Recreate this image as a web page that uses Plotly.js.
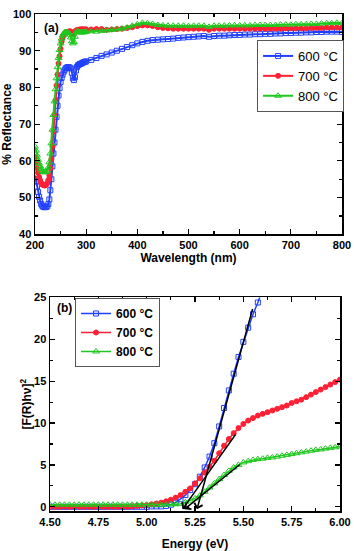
<!DOCTYPE html>
<html>
<head>
<meta charset="utf-8">
<script src="https://cdn.plot.ly/plotly-3.0.1.min.js"></script>
<style>
  html, body { margin: 0; padding: 0; background: #fff; }
  #plot { width: 354px; height: 551px; }
</style>
</head>
<body>
<div id="plot"></div>
<script>
// --- (a) reflectance data ---
const wavelength = [
  200, 202, 204, 206, 208, 210, 212, 214, 216, 218, 220, 222, 224, 226, 228, 230, 232, 234, 236, 238,
  240, 242, 244, 246, 248, 250, 252, 254, 256, 258, 260, 262, 264, 266, 268, 270, 272, 274, 276, 278,
  280, 282, 284, 286, 288, 290, 292, 294, 296, 298, 300,
  310, 320, 330, 340, 350, 360, 370, 380, 390, 400, 410, 420, 430, 440, 450, 460, 470, 480, 490, 500,
  510, 520, 530, 540, 550, 560, 570, 580, 590, 600, 610, 620, 630, 640, 650, 660, 670, 680, 690, 700,
  710, 720, 730, 740, 750, 760, 770, 780, 790, 800
];
const refl600 = [
  56.0, 54.5, 53.0, 51.5, 50.2, 49.2, 48.3, 47.8, 47.5, 47.4, 47.4, 47.5, 47.6, 48.2, 49.5, 52.0, 55.0, 58.5, 62.0, 65.0,
  68.5, 72.0, 75.0, 77.8, 79.8, 81.5, 82.6, 83.5, 84.3, 84.8, 85.2, 85.4, 85.5, 85.5, 85.4, 85.2, 84.0, 82.5, 82.0, 82.8,
  84.6, 85.6, 86.0, 86.2, 86.4, 86.5, 86.6, 86.8, 86.9, 87.0, 87.1,
  87.5, 88.0, 88.6, 89.0, 89.5, 90.0, 90.5, 91.0, 91.5, 92.0, 92.4, 92.7, 92.9, 93.0, 93.1, 93.2, 93.3, 93.5, 93.6, 93.7,
  93.8, 93.9, 94.0, 93.8, 94.0, 94.1, 94.1, 94.2, 94.3, 94.3, 94.4, 94.4, 94.5, 94.5, 94.6, 94.6, 94.7, 94.7, 94.8, 94.8,
  94.9, 94.9, 95.0, 95.0, 95.1, 95.1, 95.2, 95.2, 95.2, 95.1
];
const refl700 = [
  60.9, 59.5, 58.0, 56.8, 55.6, 54.7, 54.0, 53.6, 53.4, 53.3, 53.3, 53.5, 54.0, 54.8, 56.0, 58.0, 60.5, 64.0, 68.0, 72.5,
  76.5, 80.5, 83.5, 86.5, 88.5, 90.5, 92.5, 93.6, 94.2, 94.6, 94.8, 95.0, 95.1, 95.2, 95.3, 95.2, 94.8, 94.5, 94.8, 95.2,
  95.5, 95.6, 95.7, 95.7, 95.8, 95.8, 95.8, 95.8, 95.8, 95.8, 95.8,
  95.8, 95.9, 95.9, 95.7, 95.8, 95.9, 96.0, 96.2, 96.4, 96.7, 96.9, 96.9, 96.7, 96.4, 96.2, 96.1, 96.0, 96.0, 96.0, 96.0,
  96.0, 96.0, 96.0, 95.7, 96.0, 96.0, 96.0, 96.0, 96.0, 96.0, 96.0, 96.0, 96.0, 96.0, 96.0, 96.0, 96.0, 96.0, 96.1, 96.1,
  96.1, 96.1, 96.1, 96.2, 96.2, 96.2, 96.3, 96.3, 96.3, 96.3
];
const refl800 = [
  63.9, 62.8, 61.5, 60.3, 59.3, 58.5, 57.8, 57.3, 57.0, 56.9, 56.9, 57.0, 57.4, 58.2, 59.6, 62.0, 64.8, 68.5, 72.5, 76.2,
  79.5, 82.5, 85.5, 88.0, 90.2, 92.0, 93.3, 94.2, 94.7, 95.0, 95.1, 95.1, 95.0, 94.8, 94.4, 93.6, 92.6, 92.0, 92.4, 93.8,
  95.0, 95.3, 95.2, 95.1, 95.0, 95.0, 95.0, 95.1, 95.0, 95.1, 95.2,
  95.3, 95.2, 95.4, 95.5, 95.7, 95.8, 96.0, 96.3, 96.8, 97.2, 97.6, 97.5, 97.3, 97.0, 96.9, 96.8, 96.8, 96.8, 96.8, 96.7,
  96.8, 96.8, 96.8, 96.5, 96.8, 96.8, 96.8, 96.9, 96.9, 96.9, 96.9, 96.9, 97.0, 97.0, 97.0, 97.0, 97.0, 97.1, 97.1, 97.1,
  97.2, 97.2, 97.2, 97.3, 97.3, 97.4, 97.5, 97.5, 97.6, 97.5
];
const reflTicks = [40, 50, 60, 70, 80, 90, 100];

// --- (b) Kubelka-Munk data ---
const energy = [
  4.500, 4.525, 4.550, 4.575, 4.600, 4.625, 4.650, 4.675, 4.700, 4.725, 4.750, 4.775, 4.800, 4.825, 4.850, 4.875,
  4.900, 4.925, 4.950, 4.975, 5.000, 5.025, 5.050, 5.075, 5.100, 5.125, 5.150, 5.175, 5.200, 5.225, 5.250, 5.275,
  5.300, 5.325, 5.350, 5.375, 5.400, 5.425, 5.450, 5.475, 5.500, 5.525, 5.550, 5.575, 5.600, 5.625, 5.650, 5.675,
  5.700, 5.725, 5.750, 5.775, 5.800, 5.825, 5.850, 5.875, 5.900, 5.925, 5.950, 5.975, 6.000
];
const km600 = [
  0.0, 0.0, 0.0, 0.0, 0.0, 0.0, 0.0, 0.0, 0.0, 0.0, 0.0, 0.0, 0.0, 0.0, 0.0, 0.0,
  0.0, 0.0, 0.0, 0.0, 0.0, 0.05, 0.05, 0.05, 0.1, 0.25, 0.5, 0.9, 1.4, 2.0, 2.7, 3.6,
  4.7, 6.0, 7.6, 9.6, 11.8, 13.9, 15.9, 17.9, 19.7, 21.4, 23.0, 24.4, 26.0
];
const km700 = [
  0.0, 0.0, 0.0, 0.0, 0.0, 0.0, 0.0, 0.0, 0.0, 0.0, 0.0, 0.0, 0.0, 0.0, 0.0, 0.0,
  0.0, 0.05, 0.1, 0.15, 0.2, 0.3, 0.4, 0.5, 0.65, 0.85, 1.1, 1.4, 1.8, 2.2, 2.8, 3.4,
  4.1, 4.8, 5.5, 6.4, 7.3, 8.1, 8.8, 9.4, 9.9, 10.3, 10.6, 10.9, 11.1, 11.3, 11.5, 11.7,
  11.9, 12.1, 12.4, 12.6, 12.8, 13.1, 13.4, 13.7, 14.0, 14.3, 14.6, 14.9, 15.2
];
const km800 = [
  0.25, 0.25, 0.25, 0.25, 0.25, 0.25, 0.25, 0.25, 0.25, 0.25, 0.25, 0.25, 0.25, 0.25, 0.25, 0.25,
  0.25, 0.25, 0.25, 0.25, 0.25, 0.25, 0.25, 0.25, 0.25, 0.3, 0.3, 0.35, 0.55, 0.75, 1.0, 1.35,
  1.8, 2.3, 2.8, 3.3, 3.8, 4.3, 4.7, 5.0, 5.3, 5.45, 5.6, 5.7, 5.75, 5.85, 5.9, 6.0,
  6.1, 6.2, 6.3, 6.4, 6.5, 6.6, 6.7, 6.8, 6.85, 6.95, 7.05, 7.1, 7.2
];

// tangent lines (tail -> arrow tip on the energy axis), one per sample
const fitTailE = [5.55, 5.465, 5.49];
const fitTailY = [23.8, 8.8, 5.2];
const fitTipE = [5.26, 5.185, 5.195];
const fitTipY = [-0.3, -0.3, -0.3];

const seriesNames = ['600 °C', '700 °C', '800 °C'];
const colors = ['#2040ff', '#ff2035', '#1ec81e'];
const symbols = ['square-open', 'circle', 'triangle-up-open'];

const FONT = 'Arial, "Liberation Sans", sans-serif';

const reflData = [refl600, refl700, refl800];
const kmData = [km600, km700, km800];

const traces = [];

reflData.forEach((ys, i) => {
  traces.push({
    x: wavelength, y: ys,
    xaxis: 'x', yaxis: 'y',
    mode: 'lines+markers', name: seriesNames[i],
    line: { color: colors[i], width: 2 },
    marker: { symbol: symbols[i], size: i === 2 ? 6 : 5, color: colors[i], line: { color: colors[i], width: 1 } },
    legend: 'legend'
  });
});

kmData.forEach((ys, i) => {
  traces.push({
    x: energy.slice(0, ys.length), y: ys,
    xaxis: 'x2', yaxis: 'y2',
    mode: 'lines+markers', name: seriesNames[i],
    line: { color: colors[i], width: 1.5 },
    marker: { symbol: symbols[i], size: i === 2 ? 6 : 5, color: colors[i], line: { color: colors[i], width: 1 } },
    legend: 'legend2'
  });
});

const annotations = [
  { xref: 'paper', yref: 'paper', x: 0.022, y: 0.972, xanchor: 'left', yanchor: 'middle',
    text: '(a)', showarrow: false, font: { family: FONT, size: 12, weight: 700, color: '#000' } },
  { xref: 'paper', yref: 'paper', x: 0.064, y: 0.4085, xanchor: 'left', yanchor: 'middle',
    text: '(b)', showarrow: false, font: { family: FONT, size: 12, weight: 700, color: '#000' } }
];

fitTailE.forEach((e, i) => {
  annotations.push({
    xref: 'x2', yref: 'y2', axref: 'x2', ayref: 'y2',
    x: fitTipE[i], y: fitTipY[i], ax: e, ay: fitTailY[i],
    text: '', showarrow: true, arrowhead: 4, arrowsize: 1.1, arrowwidth: 1.5, arrowcolor: '#000'
  });
});

function axisBase(extra) {
  return Object.assign({
    showline: true, linecolor: '#000', linewidth: 1.5, mirror: 'ticks',
    ticks: 'inside', ticklen: 5, tickwidth: 1.2, tickcolor: '#000',
    showgrid: false, zeroline: false, ticklabeloverflow: 'allow',
    tickfont: { family: FONT, size: 11, weight: 700, color: '#000' }
  }, extra);
}

const titleFont = { family: FONT, size: 12, weight: 700, color: '#000' };

const layout = {
  width: 354, height: 551,
  margin: { l: 35, r: 11, t: 14, b: 40 },
  paper_bgcolor: '#fff', plot_bgcolor: '#fff',
  showlegend: true,
  xaxis: axisBase({
    domain: [0, 1], anchor: 'y', range: [200, 800], dtick: 100, tick0: 200,
    minor: { dtick: 50, ticks: 'inside', ticklen: 3, tickcolor: '#000' },
    title: { text: 'Wavelength (nm)', font: titleFont, standoff: 2 }
  }),
  yaxis: axisBase({
    domain: [0.5567, 1], anchor: 'x', range: [40, 100],
    tickmode: 'array', tickvals: reflTicks, ticktext: reflTicks.map(String),
    minor: { dtick: 5, ticks: 'inside', ticklen: 3, tickcolor: '#000' },
    title: { text: '% Reflectance', font: titleFont, standoff: 4 }
  }),
  xaxis2: axisBase({
    domain: [0.049, 0.9935], anchor: 'y2', range: [4.5, 6.0], dtick: 0.25, tick0: 4.5,
    tickformat: '.2f',
    minor: { dtick: 0.125, ticks: 'inside', ticklen: 3, tickcolor: '#000' },
    title: { text: 'Energy (eV)', font: titleFont, standoff: 14 }
  }),
  yaxis2: axisBase({
    domain: [0, 0.4296], anchor: 'x2', range: [-0.5, 25], dtick: 5, tick0: 0,
    minor: { dtick: 2.5, ticks: 'inside', ticklen: 3, tickcolor: '#000' },
    title: { text: '[F(R)hν]<sup>2</sup>', font: titleFont, standoff: 0 }
  }),
  legend: {
    x: 0.721, y: 0.9477, xanchor: 'left', yanchor: 'top',
    bordercolor: '#555', borderwidth: 1, bgcolor: '#fff',
    font: { family: FONT, size: 13, color: '#000' },
    tracegroupgap: 0, itemwidth: 30
  },
  legend2: {
    x: 0.13, y: 0.4286, xanchor: 'left', yanchor: 'top',
    bordercolor: '#555', borderwidth: 1, bgcolor: '#fff',
    font: { family: FONT, size: 12, weight: 700, color: '#000' },
    tracegroupgap: 0, itemwidth: 30
  },
  annotations: annotations
};

Plotly.newPlot('plot', traces, layout, { displayModeBar: false, staticPlot: true });
</script>
</body>
</html>
